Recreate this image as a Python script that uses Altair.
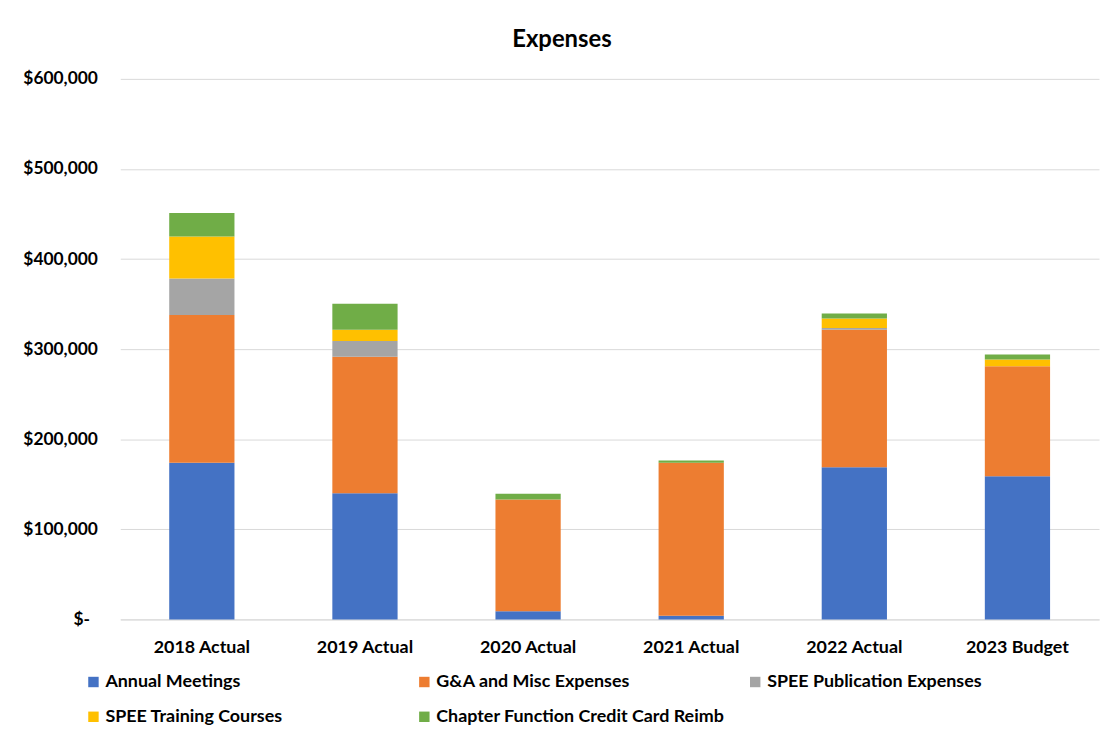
import altair as alt
import pandas as pd

categories = ["2018 Actual", "2019 Actual", "2020 Actual", "2021 Actual", "2022 Actual", "2023 Budget"]
series = ["Annual Meetings", "G&A and Misc Expenses", "SPEE Publication Expenses",
          "SPEE Training Courses", "Chapter Function Credit Card Reimb"]
annual_meetings = [174000, 140000, 9000, 4000, 169000, 159000]
ga_misc = [164000, 151500, 124000, 170000, 152500, 122000]
publication = [40500, 17500, 0, 0, 2000, 0]
training = [46500, 12500, 0, 0, 10500, 7500]
chapter = [26000, 29000, 6500, 2500, 5500, 5500]
colors = ["#4472C4", "#ED7D31", "#A5A5A5", "#FFC000", "#70AD47"]
y_ticks = [0, 100000, 200000, 300000, 400000, 500000, 600000]

rows = []
for si, (name, vals) in enumerate(zip(series, [annual_meetings, ga_misc, publication, training, chapter])):
    for c, v in zip(categories, vals):
        rows.append({"category": c, "series": name, "value": v, "idx": si})
df = pd.DataFrame(rows)

FONT = "Lato"

chart = alt.Chart(df).mark_bar().encode(
    x=alt.X("category:N", sort=categories, title=None,
            scale=alt.Scale(paddingInner=0.6, paddingOuter=0.3),
            axis=alt.Axis(labelAngle=0, ticks=False, domain=True, domainColor="#d9d9d9",
                          labelFontSize=18, labelFontWeight="bold", labelColor="#000000",
                          labelPadding=19, labelFont=FONT, grid=False)),
    y=alt.Y("value:Q", stack="zero", title=None,
            scale=alt.Scale(domain=[0, 600000], nice=False),
            axis=alt.Axis(values=y_ticks, ticks=False, domain=False, gridColor="#d9d9d9",
                          labelFontSize=17.5, labelFontWeight="bold", labelColor="#000000",
                          labelPadding={"condition": {"test": "datum.value == 0", "value": 31}, "value": 23},
                          labelFont=FONT,
                          labelExpr="datum.value == 0 ? '$-' : '$' + format(datum.value, ',')")),
    color=alt.Color("series:N", sort=series,
                    scale=alt.Scale(domain=series, range=colors),
                    legend=alt.Legend(title=None, orient="none", legendX=-36, legendY=598,
                                      direction="horizontal",
                                      columns=3, gridAlign="all", columnPadding=22, rowPadding=17,
                                      symbolType="square", symbolSize=110, symbolStrokeWidth=0,
                                      labelFontSize=18, labelFontWeight="bold", labelColor="#000000",
                                      labelFont=FONT, labelLimit=400, labelOffset=3)),
    order=alt.Order("idx:Q", sort="ascending"),
).properties(
    width=985,
    height=544,
    title=alt.TitleParams("Expenses", fontSize=24, fontWeight="bold", font=FONT, color="#000000",
                          anchor="middle", frame="group", dx=-48, offset=18),
    autosize=alt.AutoSizeParams(type="none"),
    padding={"left": 113, "top": 69, "right": 2, "bottom": 112},
    background="#ffffff",
).configure_view(strokeWidth=0, stroke="transparent")

chart.save("out.html", embed_options={"renderer": "svg", "actions": False})
